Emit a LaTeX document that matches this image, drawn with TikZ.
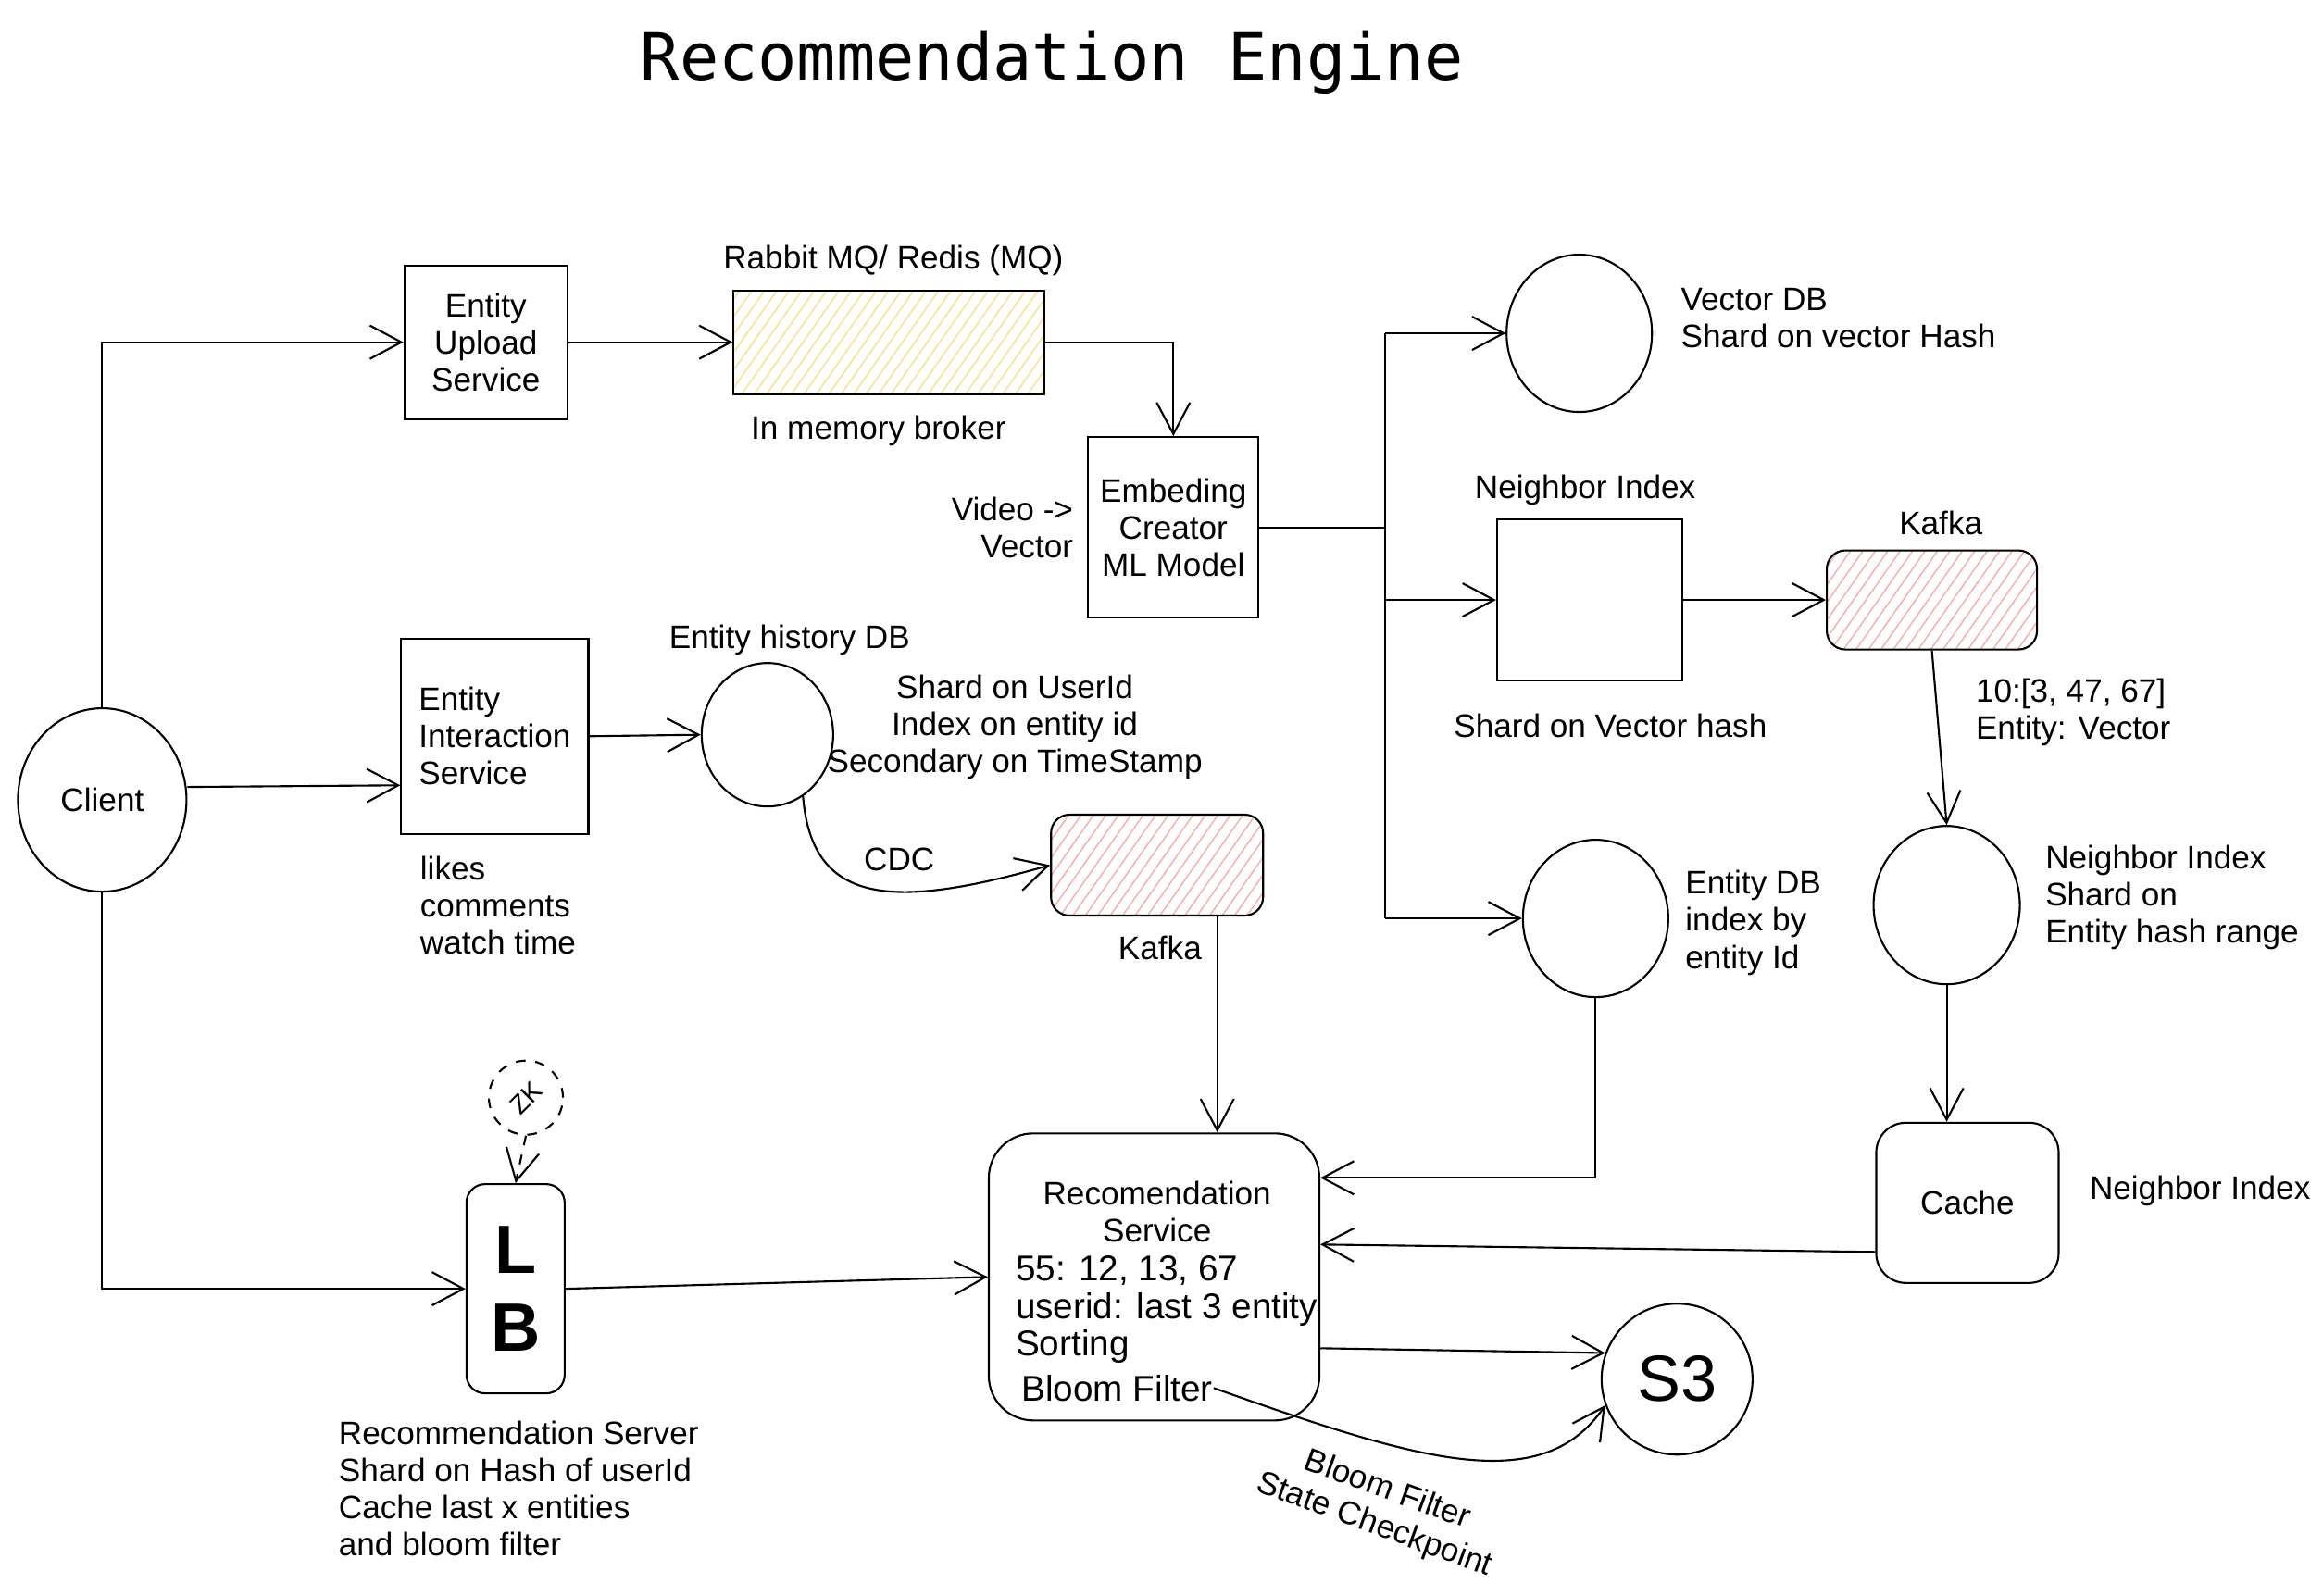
\documentclass[tikz,border=0pt]{standalone}
\usepackage{fontspec}
\usepackage{graphicx}
\setmainfont{Liberation Sans}
\newfontfamily\titlemono{DejaVu Sans Mono}
\usetikzlibrary{shapes.geometric, arrows.meta, patterns.meta}
\definecolor{hatchyellow}{HTML}{F7DE7A}
\definecolor{hatchred}{HTML}{F5A3A3}

\begin{document}
\begin{tikzpicture}[x=0.16mm, y=-0.16mm, semithick,
  font=\fontsize{10}{11.4}\selectfont,
  box/.style={draw, inner sep=0pt, align=center},
  db/.style={draw, ellipse, inner sep=0pt},
  arr/.style={-{Straight Barb[length=3.4mm, width=3.6mm]}},
  lbl/.style={align=left, anchor=west, inner sep=0pt},
  hatchfill/.style={pattern={Lines[angle=55, distance=1.1mm, line width=0.35pt]}, pattern color=#1}]

  \useasboundingbox (0,0) rectangle (1568,1077);

  % Title
  \node[font=\titlemono\fontsize{20}{24}\selectfont] (title) at (710,42) {Recommendation Engine};

  % Client side
  \node[db, minimum width=18.2mm, minimum height=19.8mm] (client) at (69,540) {Client};
  \node[box, minimum width=17.6mm, minimum height=16.6mm] (upload) at (328,231) {Entity\\Upload\\Service};
  \node[box, minimum width=20.2mm, minimum height=21.1mm, align=left] (inter) at (334,497) {Entity\\Interaction\\Service};
  \node[lbl] (interNote) at (283,611) {likes\\comments\\watch time};

  % Upload pipeline
  \node[box, hatchfill=hatchyellow, minimum width=33.6mm, minimum height=11.2mm] (rabbit) at (600,231) {};
  \node (rabbitTop) at (603,176) {Rabbit MQ/ Redis (MQ)};
  \node (rabbitNote) at (593,291) {In memory broker};
  \node[box, minimum width=18.4mm, minimum height=19.5mm] (emb) at (792,356) {Embeding\\Creator\\ML Model};
  \node[align=right, anchor=east, inner sep=0pt] (embNote) at (725,356) {Video ->\\Vector};

  % Interaction pipeline
  \node[db, minimum width=14.2mm, minimum height=15.5mm] (hist) at (518,496) {};
  \node (histTop) at (533,432) {Entity history DB};
  \node[align=center] (histNote) at (685,491) {Shard on UserId\\Index on entity id\\Secondary on TimeStamp};
  \node[box, rounded corners=2mm, hatchfill=hatchred, minimum width=22.9mm, minimum height=10.9mm] (kafkaL) at (781,584) {};
  \node (kafkaLNote) at (783,640) {Kafka};
  \node (cdc) at (607,580) {CDC};

  % Vector side
  \node[db, minimum width=15.7mm, minimum height=17mm] (vdb) at (1066,225) {};
  \node[lbl] (vdbNote) at (1134,215) {Vector DB\\Shard on vector Hash};
  \node[box, minimum width=20mm, minimum height=17.4mm] (nbox) at (1073,405) {};
  \node (nboxTop) at (1070,331) {Neighbor Index};
  \node (nboxNote) at (1087,490) {Shard on Vector hash};
  \node[box, rounded corners=2mm, hatchfill=hatchred, minimum width=22.7mm, minimum height=10.7mm] (kafkaR) at (1304,405) {};
  \node (kafkaRTop) at (1310,353) {Kafka};
  \node[lbl] (kafkaRNote) at (1333,481) {10:[3, 47, 67]\\Entity: Vector};
  \node[db, minimum width=15.8mm, minimum height=17.1mm] (nell) at (1314,611) {};
  \node[lbl] (nellNote) at (1380,606) {Neighbor Index\\Shard on\\Entity hash range};
  \node[db, minimum width=15.7mm, minimum height=17mm] (edb) at (1077,620) {};
  \node[lbl] (edbNote) at (1137,623) {Entity DB\\index by\\entity Id};
  \node[box, rounded corners=3.2mm, minimum width=19.7mm, minimum height=17.3mm] (cache) at (1328,812) {Cache};
  \node (cacheNote) at (1485,804) {Neighbor Index};

  % Recommendation side
  \node[box, rounded corners=4.8mm, minimum width=35.7mm, minimum height=31mm] (rec) at (779,862) {};
  \node[align=center] (recTitle) at (781,818) {Recomendation\\Service};
  \node[lbl, font=\fontsize{11}{11.4}\selectfont] (recBody) at (685,884) {55: 12, 13, 67\\userid: last 3 entity\\Sorting};
  \node[lbl, font=\fontsize{11}{11.4}\selectfont] (bloom) at (689,937) {Bloom Filter};
  \node[box, rounded corners=2mm, minimum width=10.6mm, minimum height=22.6mm, font=\fontsize{21}{24}\selectfont\bfseries] (lb) at (348,870) {L\\B};
  \node[draw, dashed, circle, minimum size=8mm, inner sep=0pt, font=\fontsize{8}{9}\selectfont] (zk) at (355,741) {\rotatebox{45}{ZK}};
  \node[lbl] (lbNote) at (228,1005) {Recommendation Server\\Shard on Hash of userId\\Cache last x entities\\and bloom filter};
  \node[draw, circle, minimum size=16.3mm, inner sep=0pt, font=\fontsize{20}{24}\selectfont] (s3) at (1132,931) {S3};
  \node[rotate=-20, align=center] (s3Note) at (932,1018) {Bloom Filter\\State Checkpoint};

  % Connectors from the client
  \draw[arr] (client.north) |- (upload.west);
  \draw[arr] ([yshift=1.4mm]client.east) -- ([yshift=-5.3mm]inter.west);
  \draw[arr] (client.south) |- (lb.west);

  % Upload flow
  \draw[arr] (upload.east) -- (rabbit.west);
  \draw[arr] (rabbit.east) -| (emb.north);
  \coordinate (bus) at (935,400);
  \draw (emb.east) -- (emb.east -| bus);
  \draw (bus |- vdb) -- (bus |- edb);
  \draw[arr] (bus |- vdb) -- (vdb.west);
  \draw[arr] (bus |- nbox) -- (nbox.west);
  \draw[arr] (bus |- edb) -- (edb.west);
  \draw[arr] (nbox.east) -- (kafkaR.west);
  \draw[arr] (kafkaR.south) -- (nell.north);
  \draw[arr] (nell.south) -- (nell.south |- cache.north);

  % Interaction flow
  \draw[arr] (inter.east) -- (hist.west);
  \draw[arr] (hist.-60) .. controls (548,610) and (600,615) .. (kafkaL.west);

  % Into the recommendation service
  \draw[arr] ([xshift=6.5mm]kafkaL.south) -- ([xshift=6.5mm]kafkaL.south |- rec.north);
  \draw[arr] (edb.south) |- ([yshift=10.7mm]rec.east);
  \draw[arr] ([yshift=-5.3mm]cache.west) -- ([yshift=3.5mm]rec.east);
  \draw[arr] (lb.east) -- (rec.west);
  \draw[arr, dashed] (zk.south) -- (lb.north);

  % Out to S3
  \draw[arr] ([yshift=-7.7mm]rec.east) -- (s3.160);
  \draw[arr] (bloom.east) .. controls (955,985) and (1040,1012) .. (s3.200);
\end{tikzpicture}
\end{document}
